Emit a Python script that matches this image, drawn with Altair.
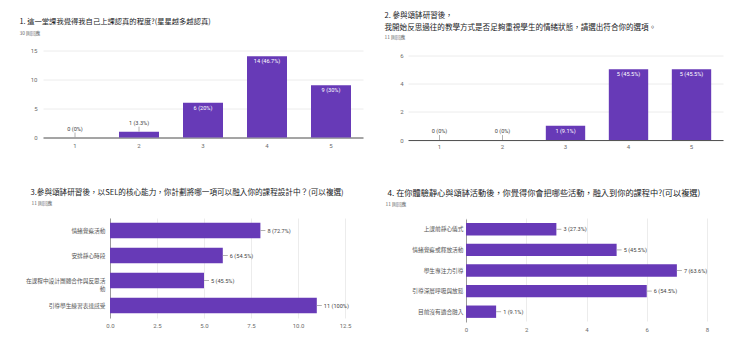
import altair as alt
import pandas as pd

PURPLE = "#673ab7"
CJK = "Noto Sans CJK TC"
NUM = "Roboto"
TITLE_COLOR = "#202124"
SUB_COLOR = "#5f6368"
AXIS_LABEL = "#6b6b6b"
VALUE_LABEL = "#444444"
GRID = "#ececec"

# ---------------- data ----------------
q1_title = "1. 這一堂課我覺得我自己上課認真的程度?(星星越多越認真)"
q1_responses = "30 則回應"
q1_categories = ["1", "2", "3", "4", "5"]
q1_counts = [0, 1, 6, 14, 9]
q1_total = 30
q1_ticks = [0, 5, 10, 15]

q2_title = ["2. 參與頌缽研習後，",
            "我開始反思過往的教學方式是否足夠重視學生的情緒狀態，請選出符合你的選項。"]
q2_responses = "11 則回應"
q2_categories = ["1", "2", "3", "4", "5"]
q2_counts = [0, 0, 1, 5, 5]
q2_total = 11
q2_ticks = [0, 2, 4, 6]

q3_title = "3.參與頌缽研習後，以SEL的核心能力，你計劃將哪一項可以融入你的課程設計中？(可以複選)"
q3_responses = "11 則回應"
q3_options = ["情緒覺察活動", "安排靜心時段", "在課程中設計團體合作與反思活動", "引導學生練習表達感受"]
q3_counts = [8, 6, 5, 11]
q3_total = 11
q3_ticks = [0, 2.5, 5, 7.5, 10, 12.5]

q4_title = "4. 在你體驗靜心與頌缽活動後，你覺得你會把哪些活動，融入到你的課程中?(可以複選)"
q4_responses = "11 則回應"
q4_options = ["上課前靜心儀式", "情緒覺察或釋放活動", "學生專注力引導", "引導深層呼吸與放鬆", "目前沒有適合融入"]
q4_counts = [3, 5, 7, 6, 1]
q4_total = 11
q4_ticks = [0, 2, 4, 6, 8]


def table(cats, counts, total, axis_max):
    rows = []
    for c, n in zip(cats, counts):
        pct = round(n / total * 100, 1)
        rows.append({"cat": c, "n": n, "label": f"{n} ({pct:g}%)",
                     "inside": bool(n / axis_max >= 0.15)})
    return pd.DataFrame(rows)


def title_axis(title, pos, size, color, weight="normal", line_height=12):
    return dict(title=title, titleX=pos[0], titleY=pos[1], titleAlign="left",
                titleBaseline="top", titleAngle=0, titleFont=CJK, titleFontSize=size,
                titleFontWeight=weight, titleColor=color, titleLineHeight=line_height)


def column_chart(cats, counts, total, ticks, width, height, yrange, title, tpos, tsize,
                 sub, spos, xpad, ypad):
    vmax = ticks[-1]
    df = table(cats, counts, total, vmax)
    base = alt.Chart(df).encode(
        x=alt.X("cat:N", sort=cats,
                scale=alt.Scale(paddingInner=0.375, paddingOuter=0.1875),
                axis=alt.Axis(**title_axis(sub, spos, 4.8, SUB_COLOR),
                              labelAngle=0, labelFont=NUM, labelFontSize=6,
                              labelColor=AXIS_LABEL, labelPadding=xpad, ticks=False,
                              tickSize=0, domain=True, domainColor="#555555",
                              domainWidth=1, grid=False)),
        y=alt.Y("n:Q", scale=alt.Scale(domain=[0, vmax], nice=False, range=yrange),
                axis=alt.Axis(**title_axis(title, tpos, tsize, TITLE_COLOR),
                              values=ticks, labelFont=NUM, labelFontSize=6,
                              labelColor=AXIS_LABEL, labelPadding=ypad, labelFlush=False,
                              ticks=False, tickSize=0, domain=False, grid=True,
                              gridColor=GRID)),
    )
    bars = base.mark_bar(color=PURPLE)
    inside = base.transform_filter("datum.inside").mark_text(
        baseline="top", dy=3, color="white", font=NUM, fontSize=5.6
    ).encode(text="label:N")
    outside = base.transform_filter("!datum.inside").mark_text(
        baseline="bottom", dy=-6, color=VALUE_LABEL, font=NUM, fontSize=5.6
    ).encode(text="label:N")
    leader = base.transform_filter("!datum.inside").mark_rule(
        color="#9e9e9e", strokeWidth=0.8, yOffset=-5
    ).encode(y2="n:Q")
    return alt.layer(bars, leader, inside, outside).properties(width=width, height=height)


def bar_chart(cats, counts, total, ticks, fmt, width, height, xrange, yrange, title, tpos,
              tsize, sub, spos, pin, xpad, ypad, label_expr=None):
    vmax = ticks[-1]
    df = table(cats, counts, total, vmax)
    yaxis = dict(**title_axis(title, tpos, tsize, TITLE_COLOR),
                 offset=-xrange[0], labelFont=CJK, labelFontSize=5.7,
                 labelColor="#555555", labelPadding=ypad, labelLimit=300,
                 labelLineHeight=8, ticks=False, tickSize=0, domain=True,
                 domainColor="#9a9a9a", domainWidth=1, grid=False)
    if label_expr:
        yaxis["labelExpr"] = label_expr
    base = alt.Chart(df).encode(
        y=alt.Y("cat:N", sort=cats,
                scale=alt.Scale(paddingInner=pin, paddingOuter=pin / 2, range=yrange),
                axis=alt.Axis(**yaxis)),
        x=alt.X("n:Q", scale=alt.Scale(domain=[0, vmax], nice=False, range=xrange),
                axis=alt.Axis(**title_axis(sub, spos, 4.8, SUB_COLOR),
                              values=ticks, format=fmt, labelFont=NUM, labelFontSize=6,
                              labelColor=AXIS_LABEL, labelPadding=xpad, labelFlush=False,
                              labelAngle=0, ticks=False, tickSize=0, domain=False,
                              grid=True, gridColor=GRID)),
    )
    bars = base.mark_bar(color=PURPLE)
    leader = base.mark_rule(color="#9e9e9e", strokeWidth=0.8, x2Offset=5).encode(x2="n:Q")
    labels = base.mark_text(align="left", baseline="middle", dx=7, color=VALUE_LABEL,
                            font=NUM, fontSize=5.6).encode(text="label:N")
    return alt.layer(bars, leader, labels).properties(width=width, height=height)


# grid: column 1 origin x=43, column 2 origin x=408; row 1 origin y=50, row 2 y=217
c1 = column_chart(q1_categories, q1_counts, q1_total, q1_ticks, 320, 87, [87, 0],
                  q1_title, (-24, -33), 7.3, q1_responses, (-24, -107), 5, 6)
c2 = column_chart(q2_categories, q2_counts, q2_total, q2_ticks, 315, 89.5, [89.5, 4.5],
                  q2_title, (-24, -39.5), 7.55, q2_responses, (-24, -105.5), 3.5, 5)
wrap = ("length(datum.label) > 14 ? [substring(datum.label, 0, 14), "
        "substring(datum.label, 14)] : datum.label")
c3 = bar_chart(q3_options, q3_counts, q3_total, q3_ticks, ".1f", 320, 100, [67, 302],
               [0, 100], q3_title, (-80, -29.5), 7.6, q3_responses, (-12, -117.5),
               0.38, 4, 5, label_expr=wrap)
c4 = bar_chart(q4_options, q4_counts, q4_total, q4_ticks, "d", 315, 104, [58, 299],
               [1, 104], q4_title, (-79, -28.5), 8.2, q4_responses, (-23, -121),
               0.4, 4, 3)

chart = alt.concat(c1, c2, c3, c4, columns=2, spacing={"row": 77.5, "column": 45},
                   bounds="flush", align="each").properties(
    padding={"left": 19, "top": 10.5, "right": 4, "bottom": 4},
    background="white",
).configure(font=CJK).configure_view(stroke=None)

chart.save("out.html", embed_options={"renderer": "svg", "actions": False})
